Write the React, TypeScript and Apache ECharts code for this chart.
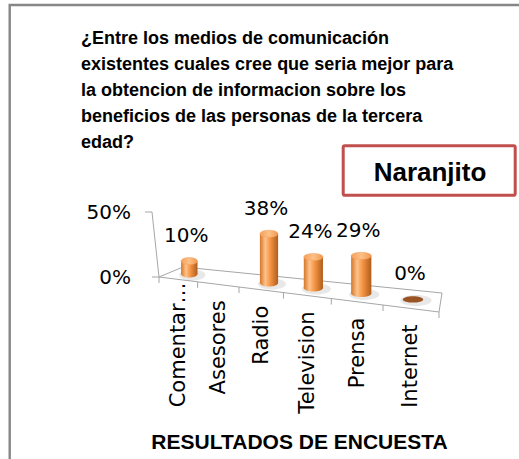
import React, { useEffect, useRef } from 'react';
import * as echarts from 'echarts';

// ---------- data ----------
const TITLE_LINES = [
  '¿Entre los medios de comunicación',
  'existentes cuales cree que seria mejor para',
  'la obtencion de informacion sobre los',
  'beneficios de las personas de la tercera',
  'edad?',
];
const LOCATION = 'Naranjito';
const AXIS_TITLE = 'RESULTADOS DE ENCUESTA';
const CATEGORIES = ['Comentar…', 'Asesores', 'Radio', 'Television', 'Prensa', 'Internet'];
const VALUES: (number | null)[] = [10, null, 38, 24, 29, 0];
const Y_MIN = 0;
const Y_MAX = 50;
const Y_STEP = 50;

// ---------- 3D-ish projection (style / geometry) ----------
const PERSP = 1.25;
const persp = (t: number) => t / (PERSP + (1 - PERSP) * t);
const FRONT_DROP = 35;
const BACK_L = [24, -10];
const BACK_R = [3, -19];
const AXIS_TILT = 7;

function floorPoint(cs: any, t: number, d: number) {
  const f = persp(t);
  const y0 = cs.y + cs.height;
  const fx = cs.x + cs.width * f;
  const fy = y0 + FRONT_DROP * f;
  const bx = cs.x + BACK_L[0] + (cs.width + BACK_R[0] - BACK_L[0]) * f;
  const by = y0 + BACK_L[1] + (FRONT_DROP + BACK_R[1] - BACK_L[1]) * f;
  return [fx + (bx - fx) * d, fy + (by - fy) * d];
}

const NUM_FONT = '"DejaVu Sans", sans-serif';
const BOLD_FONT = '"Liberation Sans", Arial, sans-serif';
const GRID_LINE = '#a6a6a6';

export default function App() {
  const ref = useRef<HTMLDivElement>(null);

  useEffect(() => {
    if (!ref.current) return;
    const chart = echarts.init(ref.current, undefined, { renderer: 'svg' });

    const bodyGrad = () =>
      new echarts.graphic.LinearGradient(0, 0, 1, 0, [
        { offset: 0, color: '#d6762a' },
        { offset: 0.3, color: '#fcc38b' },
        { offset: 0.55, color: '#f79646' },
        { offset: 1, color: '#b05d1b' },
      ]);
    const topGrad = () =>
      new echarts.graphic.LinearGradient(0, 0, 1, 0, [
        { offset: 0, color: '#f5a05a' },
        { offset: 0.5, color: '#fcc088' },
        { offset: 1, color: '#f3984b' },
      ]);

    const option: any = {
      animation: false,
      title: [
        {
          text: TITLE_LINES.join('\n'),
          left: 81,
          top: 25,
          padding: 0,
          textStyle: {
            fontFamily: BOLD_FONT,
            fontSize: 18,
            fontWeight: 'bold',
            color: '#000',
            lineHeight: 26,
          },
        },
      ],
      grid: { left: 159, top: 212, width: 280, height: 65, containLabel: false },
      xAxis: {
        type: 'category',
        data: CATEGORIES,
        show: false,
      },
      yAxis: {
        type: 'value',
        min: Y_MIN,
        max: Y_MAX,
        interval: Y_STEP,
        axisLine: { show: false },
        axisTick: { show: false },
        splitLine: { show: false },
        axisLabel: {
          formatter: '{value}%',
          fontFamily: NUM_FONT,
          fontSize: 20,
          color: '#000',
          margin: 28,
        },
      },
      graphic: [
        {
          type: 'rect',
          shape: { x: 9.7, y: 5, width: 700, height: 700 },
          style: { fill: 'none', stroke: '#878787', lineWidth: 2.4 },
          silent: true,
        },
        {
          type: 'rect',
          shape: { x: 343.2, y: 145.8, width: 172, height: 49.5, r: 1.5 },
          style: { fill: '#fff', stroke: '#c0504d', lineWidth: 3 },
        },
        {
          type: 'text',
          x: 430,
          y: 171.5,
          style: {
            text: LOCATION,
            font: `bold 26px ${BOLD_FONT}`,
            fill: '#000',
            align: 'center',
            verticalAlign: 'middle',
          },
        },
        {
          type: 'text',
          x: 299.5,
          y: 441.5,
          style: {
            text: AXIS_TITLE,
            font: `bold 21px ${BOLD_FONT}`,
            fill: '#000',
            align: 'center',
            verticalAlign: 'middle',
          },
        },
      ],
      series: [
        {
          type: 'custom',
          name: 'floor',
          silent: true,
          data: [[0, 0]],
          renderItem: (params: any, api: any) => {
            const cs = params.coordSys;
            const y0 = api.coord([0, Y_MIN])[1];
            const yTop = api.coord([0, Y_MAX])[1];
            const fl = floorPoint(cs, 0, 0);
            const fr = floorPoint(cs, 1, 0);
            const br = floorPoint(cs, 1, 1);
            const bl = floorPoint(cs, 0, 1);
            const children: any[] = [
              {
                type: 'polygon',
                shape: { points: [fl, fr, br, bl] },
                style: { fill: '#fff', stroke: GRID_LINE, lineWidth: 1 },
              },
              {
                type: 'line',
                shape: { x1: cs.x, y1: y0, x2: cs.x - AXIS_TILT, y2: yTop },
                style: { stroke: GRID_LINE, lineWidth: 1 },
              },
            ];
            for (let v = Y_MIN; v <= Y_MAX; v += Y_STEP) {
              const y = api.coord([0, v])[1];
              const x = cs.x - (AXIS_TILT * (y0 - y)) / (y0 - yTop);
              children.push({
                type: 'line',
                shape: { x1: x - 7, y1: y, x2: x, y2: y },
                style: { stroke: GRID_LINE, lineWidth: 1 },
              });
            }
            const n = CATEGORIES.length;
            for (let k = 0; k <= n; k++) {
              const p = floorPoint(cs, k / n, 0);
              children.push({
                type: 'line',
                shape: { x1: p[0], y1: p[1], x2: p[0], y2: p[1] + 6 },
                style: { stroke: GRID_LINE, lineWidth: 1 },
              });
            }
            return { type: 'group', children };
          },
          z: 1,
        },
        {
          type: 'custom',
          name: 'bars',
          silent: true,
          data: VALUES.map((v, i) => [i, v == null ? '-' : v]),
          renderItem: (params: any, api: any) => {
            const v = VALUES[params.dataIndex];
            if (v == null) return null;
            const cs = params.coordSys;
            const cat = params.dataIndex;
            const base = api.coord([cat, Y_MIN]);
            const top = api.coord([cat, v]);
            const t = (base[0] - cs.x) / cs.width;
            const p = floorPoint(cs, t, 0.5);
            const h = base[1] - top[1];
            const f = persp(t);
            const w = 16 + 6 * f;
            const rx = w / 2;
            const ry = 3.5;
            const cx = p[0];
            const by = p[1];
            const ty = by - h;
            const children: any[] = [
              {
                type: 'ellipse',
                shape: { cx: cx + 3, cy: by + 1, rx: rx + 5, ry: ry + 2 },
                style: { fill: 'rgba(0,0,0,0.09)' },
              },
            ];
            if (h < 0.5) {
              children.push({
                type: 'ellipse',
                shape: { cx, cy: by, rx: rx * 0.95, ry: ry * 0.9 },
                style: { fill: '#9a5322' },
              });
            } else {
              children.push(
                {
                  type: 'ellipse',
                  shape: { cx, cy: by, rx, ry },
                  style: { fill: bodyGrad() },
                },
                {
                  type: 'rect',
                  shape: { x: cx - rx, y: ty, width: w, height: h },
                  style: { fill: bodyGrad() },
                },
                {
                  type: 'ellipse',
                  shape: { cx, cy: ty, rx, ry },
                  style: { fill: topGrad(), stroke: '#f3a263', lineWidth: 0.5 },
                }
              );
            }
            children.push({
              type: 'text',
              x: cx - 3,
              y: ty - 26,
              style: {
                text: `${v}%`,
                font: `20px ${NUM_FONT}`,
                fill: '#000',
                align: 'center',
                verticalAlign: 'middle',
              },
            });
            return { type: 'group', children };
          },
          z: 2,
        },
        {
          type: 'custom',
          name: 'categoryLabels',
          silent: true,
          data: CATEGORIES.map((_, i) => [i, 0]),
          renderItem: (params: any, api: any) => {
            const cs = params.coordSys;
            const i = params.dataIndex;
            const label = CATEGORIES[i];
            const c = api.coord([i, Y_MIN]);
            const t = (c[0] - cs.x) / cs.width;
            const p = floorPoint(cs, t, 0);
            const overflow = label.endsWith('…') ? 13 : 0;
            return {
              type: 'text',
              x: p[0],
              y: p[1] + 16 - overflow,
              rotation: Math.PI / 2,
              style: {
                text: label,
                font: `21px ${NUM_FONT}`,
                fill: '#000',
                align: 'right',
                verticalAlign: 'middle',
              },
            };
          },
          z: 3,
        },
      ],
    };

    chart.setOption(option);
    return () => chart.dispose();
  }, []);

  return (
    <div
      ref={ref}
      style={{ position: 'absolute', left: 0, top: 0, width: 519, height: 459, background: '#fff' }}
    />
  );
}
